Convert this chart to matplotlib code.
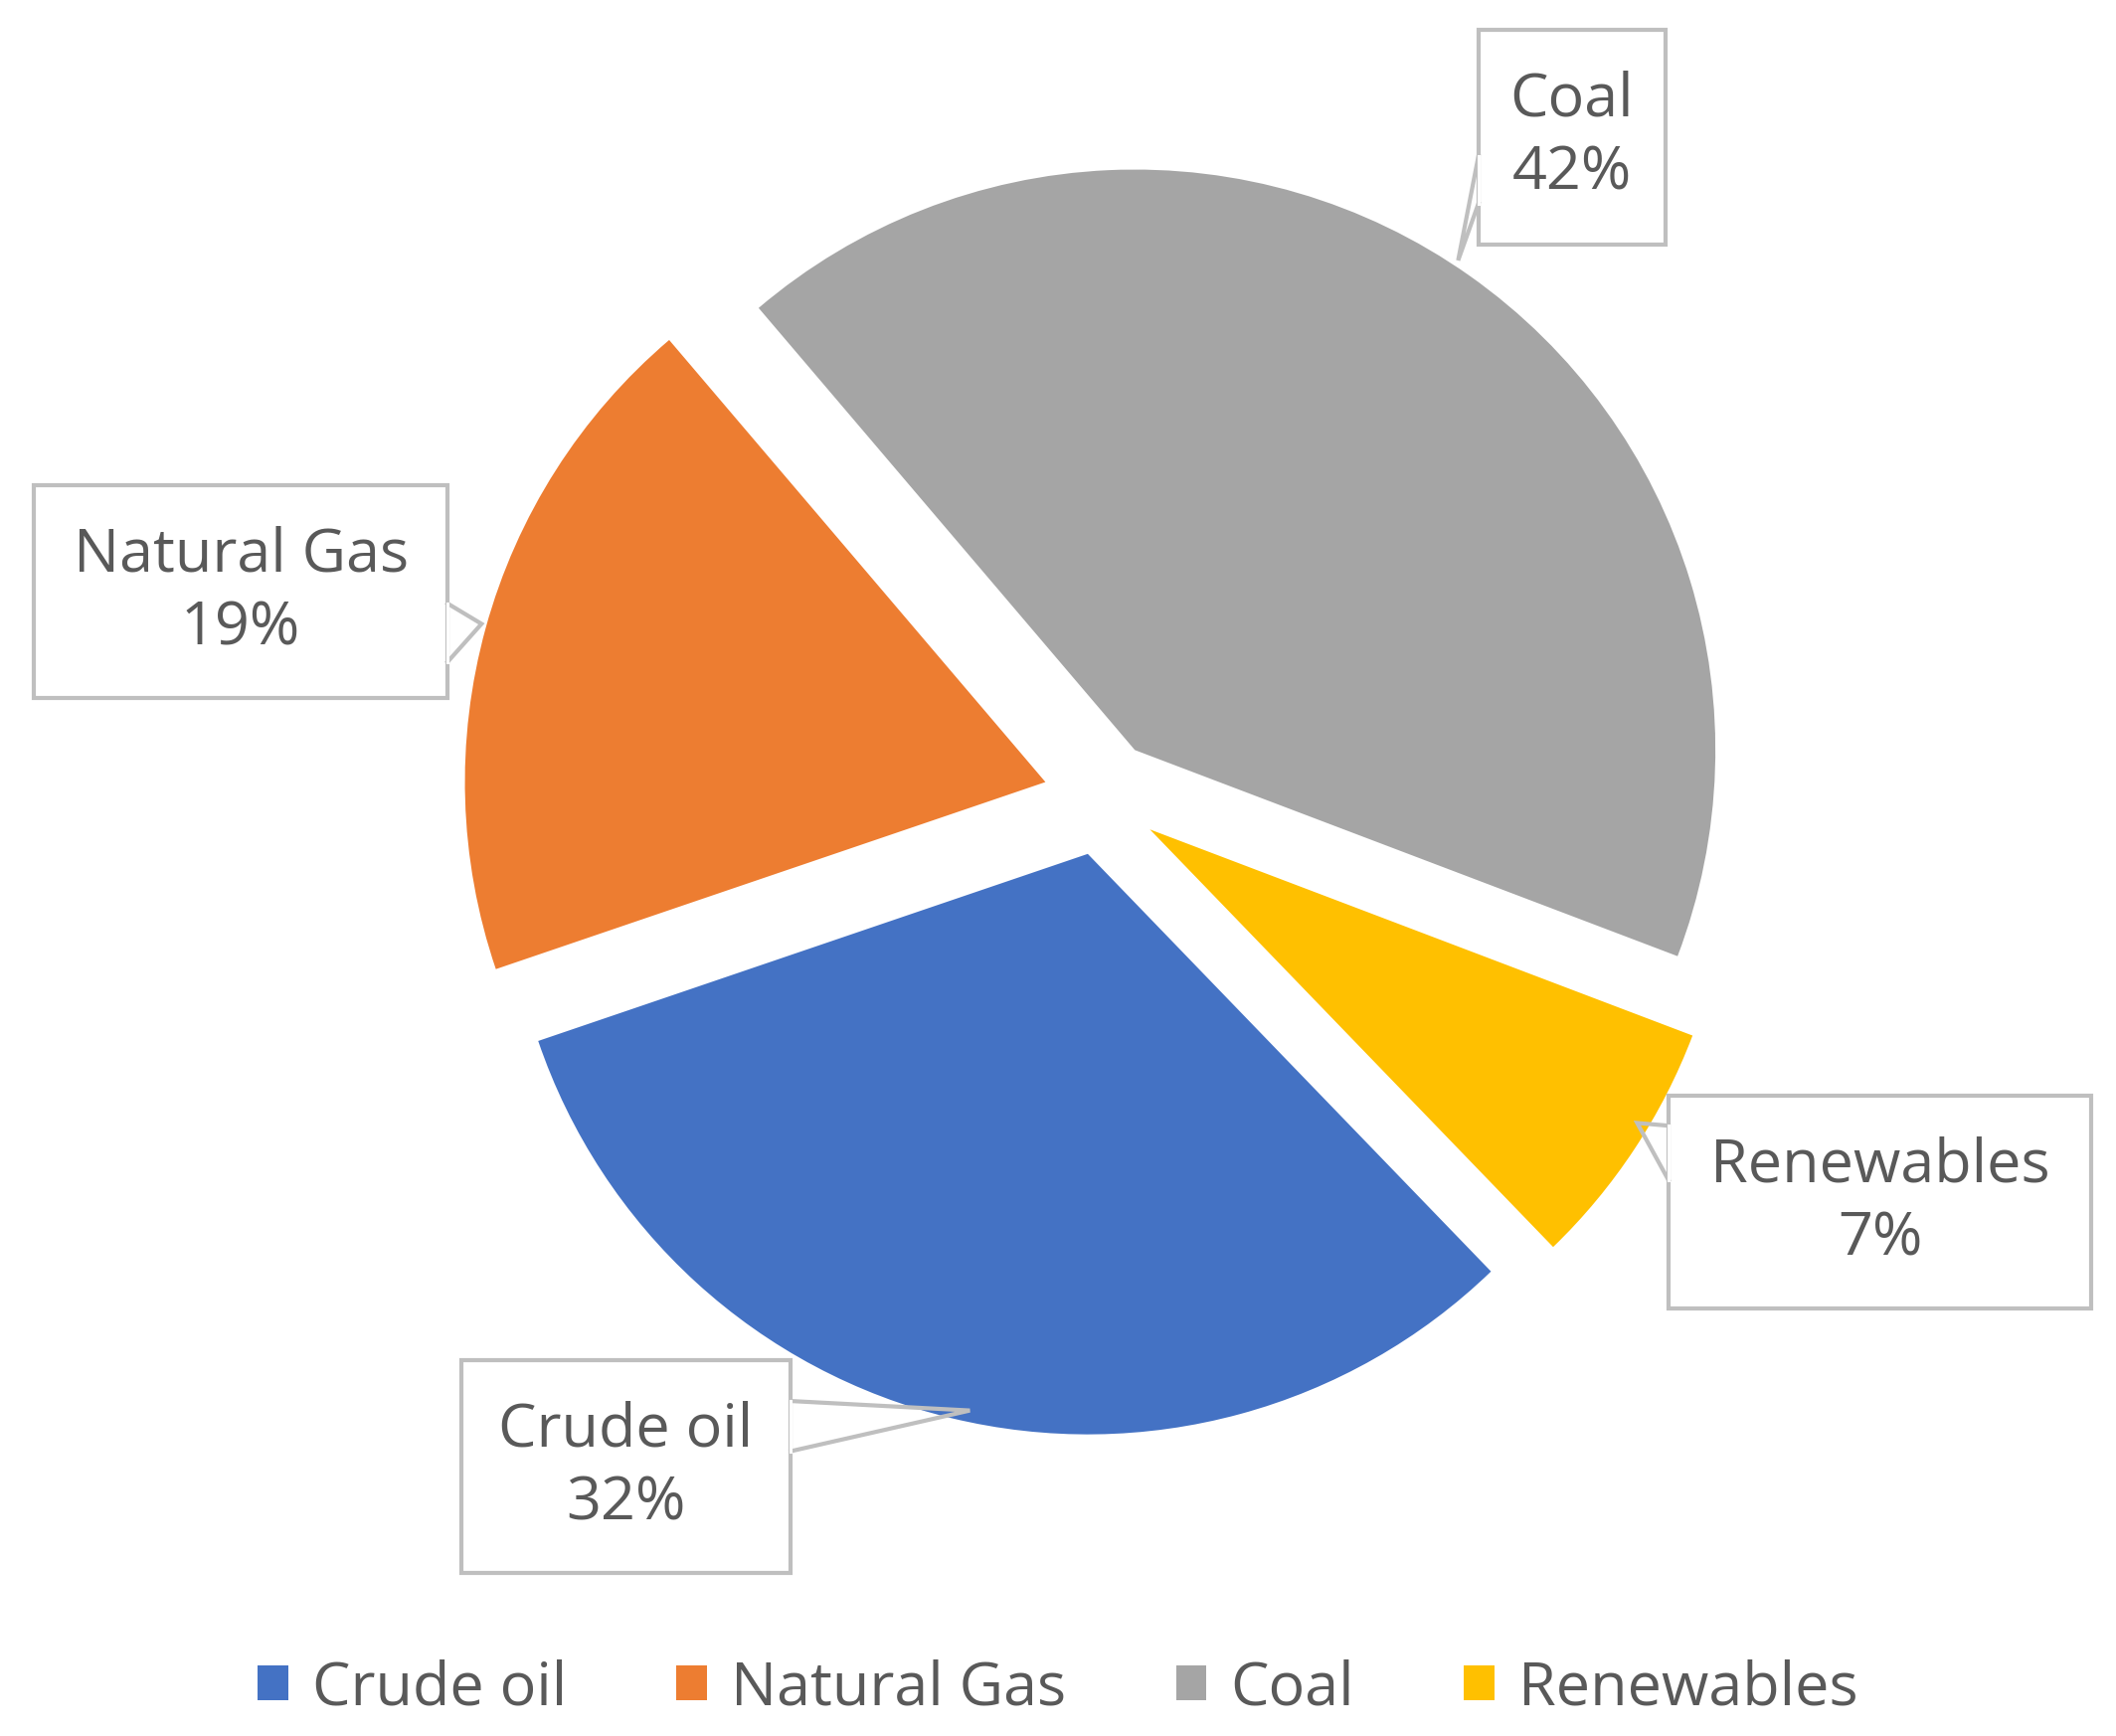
import matplotlib.pyplot as plt
from matplotlib.patches import Rectangle, Patch

labels = ['Crude oil', 'Natural Gas', 'Coal', 'Renewables']
shares = [32, 19, 42, 7]
colors = ['#4472C4', '#ED7D31', '#A5A5A5', '#FFC000']

# layout in reference pixel space (1560 x 1280), y measured from top
W, H = 1560, 1280
boxes = {  # x0, y0, x1, y1
    'Crude oil': (340, 1003, 583, 1160),
    'Natural Gas': (25, 358, 330, 515),
    'Coal': (1090, 22, 1228, 180),
    'Renewables': (1230, 808, 1542, 965),
}
leaders = {  # two base points on box edge, tip
    'Crude oil': ((583, 1033), (583, 1070), (715, 1040)),
    'Natural Gas': ((330, 445), (330, 488), (355, 460)),
    'Coal': ((1090, 115), (1090, 150), (1075, 192)),
    'Renewables': ((1230, 870), (1230, 830), (1207, 828)),
}

txt = '#595959'
edge = '#BFBFBF'
R = 428

fig = plt.figure(figsize=(21.28, 17.46), dpi=100)
ax = fig.add_axes([0, 0, 1, 1])

def fy(y):
    return H - y

# explode offset in matplotlib is absolute, not relative to radius
ax.pie(shares, colors=colors, startangle=-46, counterclock=False,
       explode=[0.1 * R] * 4, center=(812, fy(588)), radius=R,
       wedgeprops=dict(linewidth=0), frame=True)
ax.set_xlim(0, W)
ax.set_ylim(0, H)
ax.set_aspect('equal')
ax.axis('off')

for lab, s in zip(labels, shares):
    x0, y0, x1, y1 = boxes[lab]
    ax.add_patch(Rectangle((x0, fy(y1)), x1 - x0, y1 - y0, facecolor='white',
                           edgecolor=edge, linewidth=3, zorder=3))
    a, b, tip = leaders[lab]
    ax.plot([a[0], tip[0], b[0]], [fy(a[1]), fy(tip[1]), fy(b[1])],
            color=edge, linewidth=3, zorder=4, solid_joinstyle='miter')
    ax.plot([a[0], b[0]], [fy(a[1]), fy(b[1])], color='white', linewidth=2.2, zorder=4)
    cx, cy = (x0 + x1) / 2, (y0 + y1) / 2
    ax.text(cx, fy(cy), f'{lab}\n{s}%', ha='center', va='center', fontsize=44,
            color=txt, family='Open Sans', linespacing=1.3, zorder=5)

handles = [Patch(facecolor=c, edgecolor='none') for c in colors]
fig.legend(handles, labels, loc='center', bbox_to_anchor=(0.5, 1 - 1245 / H),
           ncol=4, frameon=False, labelcolor=txt,
           prop={'family': 'Open Sans', 'size': 44},
           handlelength=0.5, handleheight=0.5, handletextpad=0.4, columnspacing=1.8)

fig.savefig('out.png', dpi=100, facecolor='white')
